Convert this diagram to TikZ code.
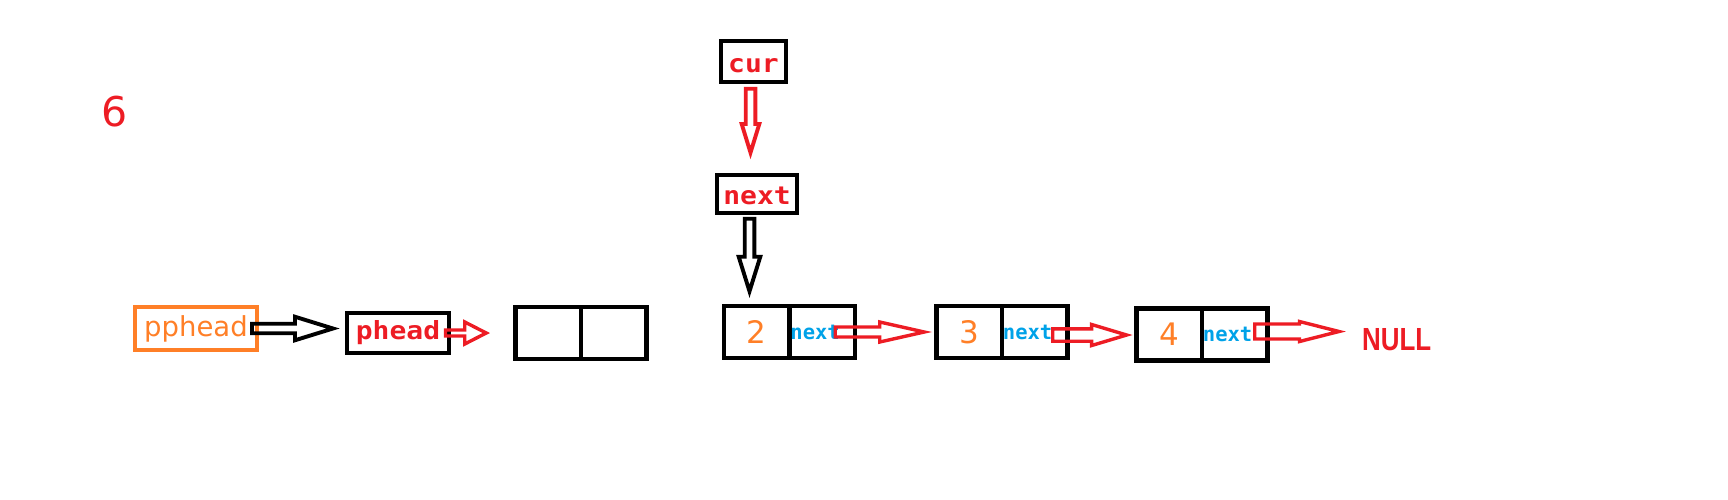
\documentclass[tikz,border=0pt]{standalone}
\usepackage{fontspec}
\setmainfont{DejaVu Sans}
\newfontfamily\codefont{DejaVu Sans Mono Bold}[FakeStretch=1.12]
\newfontfamily\fieldfont{DejaVu Sans Mono Bold}
\newfontfamily\narrowbold{Liberation Sans Bold}[FakeStretch=0.81]
\usetikzlibrary{calc,positioning}
\definecolor{paintred}{RGB}{237,28,36}
\definecolor{paintorange}{RGB}{255,127,39}
\definecolor{paintblue}{RGB}{0,162,232}
\begin{document}
\begin{tikzpicture}[x=1pt,y=-1pt,
  cell/.style={draw,line width=4.5pt,minimum width=65.5pt,minimum height=52pt,inner sep=0pt,outer sep=0pt},
  ptr/.style={draw,line width=4.5pt,inner sep=0pt,outer sep=0pt,text=paintred,font=\codefont\fontsize{25}{25}\selectfont},
  flat/.style={text height=21pt,text depth=0pt},
  field/.style={text=paintblue,inner sep=1pt,font=\fieldfont\fontsize{20.5}{20.5}\selectfont},
  digit/.style={text=paintorange,font=\fontsize{31}{31}\selectfont},
  hollow/.style n args={3}{line width=3.9pt,to path={
    ($(\tikztostart)!#1!90:(\tikztotarget)$)
    -- ($($(\tikztotarget)!#3!(\tikztostart)$)!#1!90:(\tikztotarget)$)
    -- ($($(\tikztotarget)!#3!(\tikztostart)$)!#2!90:(\tikztotarget)$)
    -- (\tikztotarget)
    -- ($($(\tikztotarget)!#3!(\tikztostart)$)!#2!-90:(\tikztotarget)$)
    -- ($($(\tikztotarget)!#3!(\tikztostart)$)!#1!-90:(\tikztotarget)$)
    -- ($(\tikztostart)!#1!-90:(\tikztotarget)$) -- cycle}}]
\useasboundingbox (0,0) rectangle (1728,499);

\node[text=paintred,font=\fontsize{41}{41}\selectfont] (stepno) at (115,112) {6};

\node[ptr,draw=paintorange,text=paintorange,font=\fontsize{27.5}{27.5}\selectfont,minimum width=122pt,minimum height=43pt] (pphead) at (196,328.5) {pphead};
\node[ptr,minimum width=102pt,minimum height=40pt] (phead) at (398,333) {phead};
\node[ptr,flat,minimum width=65pt,minimum height=41pt] (cur) at (753.5,61.5) {cur};
\node[ptr,flat,minimum width=80pt,minimum height=38pt] (nxt) at (757,194) {next};

\node[cell] (e1) at (548,333) {};
\node[cell,right=0pt of e1] (e2) {};
\node[cell,digit] (d2) at (756.5,332) {2};
\node[cell,right=0pt of d2] (n2) {};
\node[cell,digit] (d3) at (969,332) {3};
\node[cell,right=0pt of d3] (n3) {};
\node[cell,digit] (d4) at (1169,334.5) {4};
\node[cell,right=0pt of d4] (n4) {};
\node[field,anchor=west] (f2) at (n2.west) {next};
\node[field,anchor=west] (f3) at (n3.west) {next};
\node[field,anchor=west] (f4) at (n4.west) {next};
\node[text=paintred,font=\narrowbold\fontsize{32}{32}\selectfont,inner sep=0pt,anchor=west] (null) at (1362,339.5) {NULL};

\draw[hollow={4.75pt}{11.75pt}{38pt}] ([xshift=-5pt]pphead.east) to ($(phead.west |- pphead.east)+(-14,0)$);
\draw[hollow={3pt}{11pt}{21.5pt},paintred,line width=3.4pt] ([xshift=-3.5pt]phead.east) to ($(e1.west |- phead.east)+(-29,0)$);
\draw[hollow={5pt}{10pt}{44.5pt},paintred,line width=3.4pt] ([xshift=-19.5pt]n2.east) to ($(d3.west)+(-12,0)$);
\draw[hollow={6.2pt}{10.5pt}{35pt},paintred,line width=3.4pt] ([shift={(-14.5,3)}]n3.east) to ($(d4.west)+(-9.6,0.5)$);
\draw[hollow={7.5pt}{10pt}{39.5pt},paintred,line width=3.4pt] ([shift={(-12.5,-3)}]n4.east) to ($(null.west |- n4.east)+(-23,-3)$);
\draw[hollow={4.8pt}{8.8pt}{28.6pt},paintred] ([shift={(-3,6.7)}]cur.south) to ($(cur.south |- nxt.north)+(-3,-22.4)$);
\draw[hollow={4.8pt}{10.8pt}{34.6pt}] ([shift={(-7.5,5.7)}]nxt.south) to ($(d2.north)+(-7,-14.7)$);
\end{tikzpicture}
\end{document}
